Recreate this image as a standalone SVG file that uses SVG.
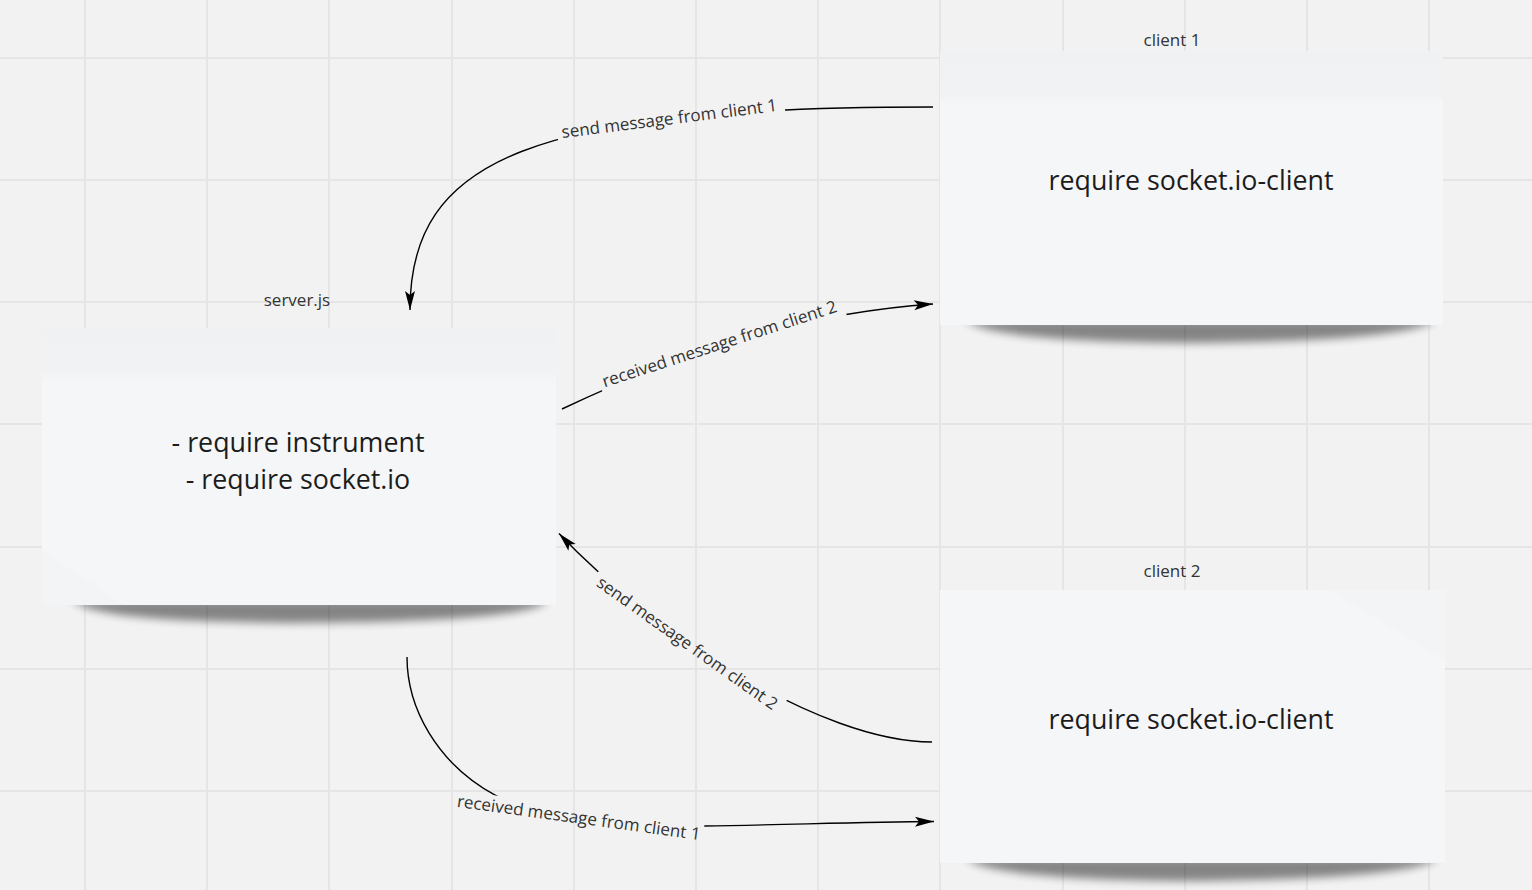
<svg xmlns="http://www.w3.org/2000/svg" width="1532" height="890" viewBox="0 0 1532 890">
<style>
.grid line{stroke:#e5e5e5;stroke-width:2}
.note{fill:url(#noteGrad)}
.plain{fill:#f5f6f8}
.main{font-family:"Open Sans","Noto Sans","Liberation Sans",sans-serif;font-size:26.8px;fill:#1c1c1c;text-anchor:middle}
.cap{font-family:"Open Sans","Noto Sans","Liberation Sans",sans-serif;font-size:17px;fill:#333333;text-anchor:middle}
.conn{fill:none;stroke:#000;stroke-width:1.4;marker-end:url(#arr)}
.shadow{fill:#000;opacity:0.45;filter:url(#blur)}
</style>
<defs>
<linearGradient id="noteGrad" x1="0" y1="0" x2="0" y2="1">
<stop offset="0" stop-color="#f0f1f3"/>
<stop offset="0.16" stop-color="#f1f2f4"/>
<stop offset="0.19" stop-color="#f5f6f8"/>
<stop offset="1" stop-color="#f5f6f8"/>
</linearGradient>
<filter id="blur" x="-10%" y="-100%" width="120%" height="300%"><feGaussianBlur stdDeviation="4.5"/></filter>
<marker id="arr" viewBox="-20 -6 21 12" refX="0" refY="0" markerWidth="21" markerHeight="12" markerUnits="userSpaceOnUse" orient="auto">
<path d="M0,0 L-19,-5 L-15,0 L-19,5 Z" fill="#000"/>
</marker>
<mask id="gaps" maskUnits="userSpaceOnUse" x="0" y="0" width="1532" height="890">
<rect x="0" y="0" width="1532" height="890" fill="#fff"/>
<rect transform="translate(670,124.5) rotate(-7.2)" x="-113" y="-18" width="229" height="28" fill="#000"/>
<rect transform="translate(721.2,349.5) rotate(-18)" x="-126" y="-18" width="256" height="28" fill="#000"/>
<rect transform="translate(684,648) rotate(35.3)" x="-114" y="-26" width="228" height="36" fill="#000"/>
<rect transform="translate(578,823.4) rotate(7.8)" x="-127" y="-16.5" width="252.5" height="26" fill="#000"/>
</mask>
</defs>
<rect width="1532" height="890" fill="#f2f2f2"/>
<g class="grid">
<line x1="85" y1="0" x2="85" y2="890"/>
<line x1="207" y1="0" x2="207" y2="890"/>
<line x1="329" y1="0" x2="329" y2="890"/>
<line x1="452" y1="0" x2="452" y2="890"/>
<line x1="574" y1="0" x2="574" y2="890"/>
<line x1="696" y1="0" x2="696" y2="890"/>
<line x1="818" y1="0" x2="818" y2="890"/>
<line x1="940" y1="0" x2="940" y2="890"/>
<line x1="1063" y1="0" x2="1063" y2="890"/>
<line x1="1185" y1="0" x2="1185" y2="890"/>
<line x1="1307" y1="0" x2="1307" y2="890"/>
<line x1="1429" y1="0" x2="1429" y2="890"/>
<line x1="0" y1="58" x2="1532" y2="58"/>
<line x1="0" y1="180" x2="1532" y2="180"/>
<line x1="0" y1="302" x2="1532" y2="302"/>
<line x1="0" y1="424" x2="1532" y2="424"/>
<line x1="0" y1="547" x2="1532" y2="547"/>
<line x1="0" y1="669" x2="1532" y2="669"/>
<line x1="0" y1="791" x2="1532" y2="791"/>
</g>

<g id="server">
<path class="shadow" d="M72,600 L548,600 C540,613 470,622 300,623 C150,622 90,615 72,600 Z"/>
<rect class="note" x="42" y="328" width="514" height="277"/>
<polygon points="42,550 125,605 42,605" fill="#eef0f2" opacity="0.35"/>
<text class="cap" x="297" y="305.5">server.js</text>
<text class="main" x="298" y="451.5">- require instrument</text>
<text class="main" x="298" y="489">- require socket.io</text>
</g>

<g id="client1">
<path class="shadow" d="M965,320 L1435,320 C1420,334 1330,342 1190,343 C1060,342 985,335 965,320 Z"/>
<rect class="note" x="940" y="51" width="503" height="274"/>
<text class="cap" x="1172" y="45.5">client 1</text>
<text class="main" x="1191" y="190">require socket.io-client</text>
</g>

<g id="client2">
<path class="shadow" d="M965,858 L1438,858 C1423,872 1330,880 1190,881 C1060,880 985,873 965,858 Z"/>
<rect class="plain" x="940" y="590" width="505" height="273"/>
<polygon points="1330,590 1445,590 1445,660" fill="#eceef0" opacity="0.3"/>
<text class="cap" x="1172" y="576.5">client 2</text>
<text class="main" x="1191" y="729">require socket.io-client</text>
</g>

<g id="connectors">
<g mask="url(#gaps)">
<path class="conn" d="M933,107 C533,107 410,158 410,310"/>
<path class="conn" d="M562,409 C697.5,344.6 812.4,312.6 933,304"/>
<path class="conn" d="M932,742 C820,742 650,630 559,533.5"/>
<path class="conn" d="M407,657 C407,707 436,763.3 496,795.7 C556,828 640,827 704,826 C780,825 860,822 934,821.5"/>
</g>
<text class="cap" transform="translate(670,124.5) rotate(-7.2)" x="0" y="0">send message from client 1</text>
<text class="cap" transform="translate(721.2,349.5) rotate(-18)" x="0" y="0">received message from client 2</text>
<text class="cap" transform="translate(684,648) rotate(35.3)" x="0" y="0">send message from client 2</text>
<text class="cap" transform="translate(578,823.4) rotate(7.8)" x="0" y="0">received message from client 1</text>
</g>
</svg>
